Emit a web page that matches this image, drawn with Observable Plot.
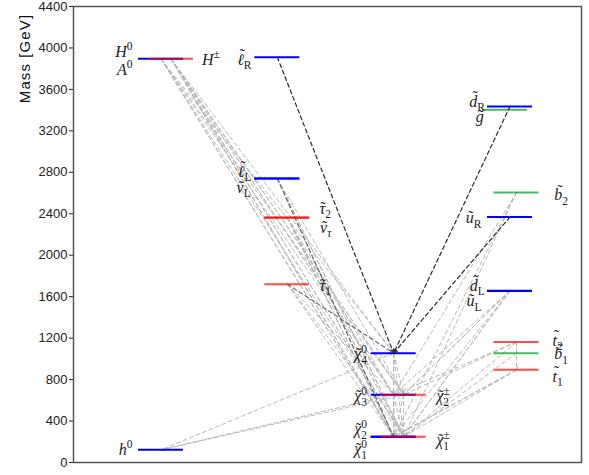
<!DOCTYPE html>
<html>
<head>
<meta charset="utf-8">
<script src="https://cdn.jsdelivr.net/npm/d3@7"></script>
<script src="https://cdn.jsdelivr.net/npm/@observablehq/plot@0.6"></script>
<style>
  html, body { margin: 0; padding: 0; background: #fff; }
</style>
</head>
<body>
<div id="chart"></div>
<script>
// ---- data -------------------------------------------------------------
const massTicks = [0, 400, 800, 1200, 1600, 2000, 2400, 2800, 3200, 3600, 4000, 4400];
const yLabel = "Mass [GeV]";

// spectrum columns: 1 = Higgs, 2 = sleptons, 3 = gauginos, 4 = squarks/gluino
const levelNames   = ["h0","H0","A0","Hpm","lR","lL","nuL","tau2","nutau","tau1","N4","N3","C2","N2","N1","C1","dR","gl","b2","uR","dL","uL","t2","b1","t1"];
const levelMasses  = [122, 3895, 3895, 3897, 3910, 2740, 2740, 2365, 2362, 1721, 1055, 654, 654, 252, 245, 248, 3436, 3404, 2606, 2369, 1658, 1656, 1163, 1055, 894];
const levelColumns = [1, 1, 1, 1, 2, 2, 2, 2, 2, 2, 3, 3, 3, 3, 3, 3, 4, 4, 4, 4, 4, 4, 4, 4, 4];
// kind: A = blue, B = red, C = green, G = gluino (green)
const levelKinds   = ["A","A","B","B","A","A","A","B","B","B","A","A","B","A","A","B","A","G","C","A","A","A","B","C","B"];

// particle labels: base, superscript, subscript, column, side, label mass
const particleLabels = [
  ["h", "0", "", 1, "left", 122],
  ["H", "0", "", 1, "left", 3965],
  ["A", "0", "", 1, "left", 3790],
  ["H", "±", "", 1, "right", 3885],
  ["ℓ̃", "", "R", 2, "left", 3885],
  ["ℓ̃", "", "L", 2, "left", 2805],
  ["ν̃", "", "L", 2, "left", 2650],
  ["τ̃", "", "2", 2, "right", 2449],
  ["ν̃", "", "τ", 2, "right", 2265],
  ["τ̃", "", "1", 2, "right", 1707],
  ["χ̃", "0", "4", 3, "left", 1045],
  ["χ̃", "0", "3", 3, "left", 640],
  ["χ̃", "±", "2", 3, "right", 640],
  ["χ̃", "0", "2", 3, "left", 322],
  ["χ̃", "0", "1", 3, "left", 130],
  ["χ̃", "±", "1", 3, "right", 218],
  ["d̃", "", "R", 4, "left", 3480],
  ["g̃", "", "", 4, "left", 3335],
  ["b̃", "", "2", 4, "right", 2580],
  ["ũ", "", "R", 4, "left", 2360],
  ["d̃", "", "L", 4, "left", 1707],
  ["ũ", "", "L", 4, "left", 1555],
  ["t̃", "", "2", 4, "right", 1175],
  ["b̃", "", "1", 4, "right", 1045],
  ["t̃", "", "1", 4, "right", 830]
];

// decays: parent, daughter, tone
const decays = [
  ["H0","N1","light"],["H0","N2","light"],["H0","N3","light"],["H0","N4","light"],["H0","C1","light"],["H0","C2","light"],
  ["A0","N1","light"],["A0","N2","light"],["A0","N3","light"],["A0","N4","light"],["A0","C1","light"],["A0","C2","light"],
  ["Hpm","N1","light"],["Hpm","N3","light"],["Hpm","C1","light"],["Hpm","C2","light"],
  ["lL","N2","light"],["lL","C1","light"],["nuL","N1","light"],["nuL","C1","light"],["nuL","C2","light"],
  ["tau2","N1","light"],["tau2","N2","light"],["tau2","C1","light"],["nutau","N1","light"],["nutau","C1","light"],["nutau","N3","light"],
  ["tau1","N1","light"],["tau1","C1","light"],["tau1","N3","light"],
  ["N4","N1","light"],["N4","N2","light"],["N4","h0","light"],["N4","C1","light"],["N4","C2","light"],
  ["N3","N1","light"],["N3","N2","light"],["N3","h0","light"],["N3","C1","light"],
  ["C2","C1","light"],["C2","N1","light"],["C2","h0","light"],
  ["b2","N1","light"],["b2","N3","light"],["b2","C1","light"],
  ["dL","C1","light"],["dL","C2","light"],["dL","N3","light"],["uL","C1","light"],["uL","C2","light"],["uL","N1","light"],
  ["t2","t1","light"],["t2","C2","light"],["t2","N3","light"],["t2","C1","light"],
  ["b1","C1","light"],
  ["t1","N1","light"],["t1","C1","light"],["t1","N2","light"],
  ["lL","N1","mid"],["tau1","N4","mid"],
  ["lR","N4","dark"],["dR","N4","dark"],["uR","N4","dark"]
];

// ---- derived tables ---------------------------------------------------
const halfWidth = 0.1934;
const kindColor = {A: "#0000ff", B: "#ff0000", C: "#00a020", G: "#00a020"};
const kindOpacity = {A: 1, B: 0.7, C: 0.72, G: 0.72};
function kindOffset(kind, col) {
  if (kind === "B") return col < 4 ? 0.086 : 0.056;
  if (kind === "C") return 0.056;
  if (kind === "G") return -0.043;
  return 0;
}
const levels = levelNames.map((name, i) => ({
  name, mass: levelMasses[i], col: levelColumns[i], kind: levelKinds[i],
  x: levelColumns[i] + kindOffset(levelKinds[i], levelColumns[i])
}));
const byName = new Map(levels.map(d => [d.name, d]));
const levelOrder = {A: 0, G: 1, C: 2, B: 3};
// H± sits exactly under the A0 bar, so only one red bar is painted there
const levelsSorted = levels.filter(d => d.name !== "Hpm").sort((a, b) => levelOrder[a.kind] - levelOrder[b.kind]);

const decayRows = decays.map(([p, d, tone]) => ({p: byName.get(p), d: byName.get(d), tone}));
const toneStyle = {light: {stroke: "#b8b8b8", w: 1}, mid: {stroke: "#6a6a6a", w: 1.1}, dark: {stroke: "#2a2a2a", w: 1.2}};

const leftLabels = particleLabels.filter(d => d[4] === "left");
const rightLabels = particleLabels.filter(d => d[4] === "right");

function decayMark(tone) {
  return Plot.arrow(decayRows.filter(r => r.tone === tone), {
    x1: r => r.p.x, y1: r => r.p.mass,
    x2: r => r.d.x, y2: r => r.d.mass,
    stroke: toneStyle[tone].stroke,
    strokeWidth: toneStyle[tone].w,
    strokeDasharray: "4,3",
    headLength: 5,
    headAngle: 50
  });
}

const labelFont = "'Liberation Serif', 'DejaVu Serif', serif";

const svg = Plot.plot({
  width: 589,
  height: 475,
  marginLeft: 73,
  marginRight: 8,
  marginTop: 6,
  marginBottom: 13,
  style: {fontFamily: "'Liberation Sans', Arial, sans-serif", fontSize: "13px", color: "#222", background: "#fff"},
  x: {domain: [0.2478, 4.6147], axis: null},
  y: {domain: [0, 4400], ticks: massTicks, tickFormat: d3.format("d"), tickSize: 4, tickPadding: 2, label: null},
  marks: [
    decayMark("light"),
    decayMark("mid"),
    Plot.ruleY(levelsSorted, {
      y: "mass",
      x1: d => d.x - halfWidth,
      x2: d => d.x + halfWidth,
      stroke: d => kindColor[d.kind],
      strokeOpacity: d => kindOpacity[d.kind],
      strokeWidth: 2
    }),
    decayMark("dark"),
    Plot.text(leftLabels, {
      x: d => d[3] - halfWidth, y: d => d[5], text: d => d[0] + d[1] + d[2],
      textAnchor: "end", dx: -6, fontSize: 16, fontFamily: labelFont, fill: "#222"
    }),
    Plot.text(rightLabels, {
      x: d => d[3] + 0.274, y: d => d[5], text: d => d[0] + d[1] + d[2],
      textAnchor: "start", dx: 9, fontSize: 16, fontFamily: labelFont, fill: "#222"
    }),
    Plot.text([yLabel], {
      frameAnchor: "top-left", text: d => d, rotate: -90,
      dx: -54, dy: 52, textAnchor: "middle", fontSize: 15, fill: "#111"
    }),
    Plot.frame({stroke: "#555", strokeWidth: 1.5})
  ]
});

document.getElementById("chart").appendChild(svg);

// rebuild label texts: tilde accent, stacked super/subscripts (needs the svg in the DOM to measure)
function styleLabels(group, rows) {
  const small = 11.5;
  d3.select(group).selectAll("text").each(function (_, i) {
    const [base, sup, sub] = rows[i];
    const hasTilde = base.includes("\u0303");
    const letter = base.replace("\u0303", "");
    const t = d3.select(this);
    t.text(null);
    let tilde = null;
    if (hasTilde) tilde = t.append("tspan").attr("font-style", "normal").text("\u02DC");
    const b = t.append("tspan").attr("font-style", "italic").text(letter);
    if (hasTilde) {
      const w = b.node().getComputedTextLength();
      const wt = tilde.node().getComputedTextLength();
      const tall = /[dbtℓ]/.test(letter);
      const raise = tall ? 4.5 : 0.5;
      const shift = (w - wt) / 2 + (tall ? 2 : 1);
      tilde.attr("dx", shift).attr("dy", -raise);
      b.attr("dx", -(shift + wt)).attr("dy", raise);
    }
    if (sup) t.append("tspan").attr("font-size", small).attr("dy", -6.5).text(sup);
    if (sub) {
      const ts = t.append("tspan").attr("font-size", small)
        .attr("font-style", /[α-ω]/.test(sub) ? "italic" : "normal")
        .attr("dy", sup ? 11 : 4.5).text(sub);
      if (sup) ts.attr("dx", -(sup === "±" ? 0.564 : 0.5) * small);
    }
  });
}
// text-mark groups appear in mark order: left labels, right labels, axis title
const textGroups = Array.from(svg.children).filter(g => g.getAttribute("aria-label") === "text");
styleLabels(textGroups[0], leftLabels);
styleLabels(textGroups[1], rightLabels);
if (textGroups[2]) d3.select(textGroups[2]).selectAll("text").attr("letter-spacing", "1.1px");
</script>
</body>
</html>
